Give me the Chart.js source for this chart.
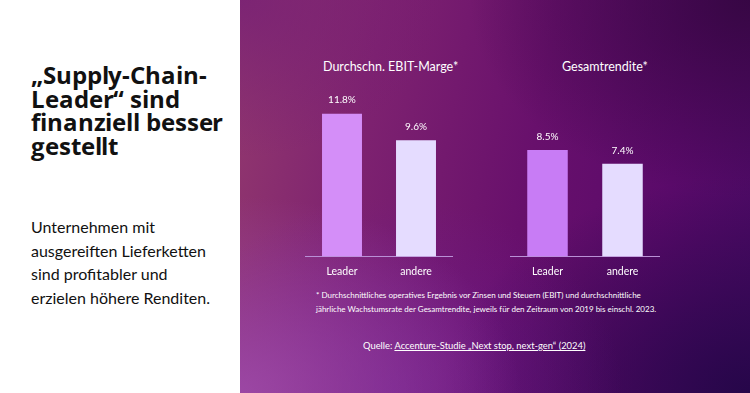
<!DOCTYPE html>
<html>
<head>
<meta charset="utf-8">
<script src="https://cdn.jsdelivr.net/npm/chart.js@4"></script>
<style>
  @font-face {
    font-family: 'HeadSans';
    src: local('Open Sans Bold'), local('OpenSans-Bold'), local('Open Sans');
    font-weight: 700;
    ascent-override: 76%;
    descent-override: 21%;
    line-gap-override: 0%;
  }
  html, body { margin: 0; padding: 0; }
  body { width: 750px; height: 393px; position: relative; overflow: hidden; background: #fff; font-family: Lato, "Open Sans", sans-serif; }
  #left { position: absolute; left: 0; top: 0; width: 240px; height: 393px; background: #fff; }
  #headline { position: absolute; left: 31px; top: 66px; font-family: HeadSans, "Open Sans", sans-serif; font-size: 24px; font-weight: 700; line-height: 23.5px; color: #111; letter-spacing: -0.1px; }
  #intro { position: absolute; left: 31px; top: 215px; font-size: 16px; line-height: 23.5px; color: #111; }
  #panel {
    position: absolute; left: 240px; top: 0; width: 510px; height: 393px;
    background:
      radial-gradient(ellipse 55% 50% at 0% 100%, rgba(160,76,172,0.85) 0%, rgba(160,76,172,0) 100%),
      radial-gradient(ellipse 45% 50% at 30% 100%, rgba(110,30,150,0.6) 0%, rgba(110,30,150,0) 100%),
      radial-gradient(ellipse 60% 55% at 100% 100%, rgba(36,6,72,0.95) 0%, rgba(36,6,72,0) 100%),
      radial-gradient(ellipse 55% 50% at 100% 0%, rgba(50,6,62,0.85) 0%, rgba(50,6,62,0) 100%),
      radial-gradient(ellipse 40% 40% at 0% 0%, rgba(115,28,118,0.7) 0%, rgba(115,28,118,0) 100%),
      linear-gradient(100deg, #92386e 0%, #7e2270 25%, #68106c 55%, #5a0a6a 80%, #4a0a64 100%);
  }
  .ctitle { position: absolute; color: #fff; font-size: 12.5px; white-space: nowrap; }
  canvas { position: absolute; }
  #note { position: absolute; left: 316px; top: 288px; color: #fff; font-size: 8px; line-height: 14px; white-space: nowrap; }
  #source { position: absolute; left: 363px; top: 340px; color: #fff; font-size: 9.4px; white-space: nowrap; }
  #source u { text-decoration-thickness: 1px; }
</style>
</head>
<body>
<div id="left">
  <div id="headline">„Supply-Chain-<br>Leader“ sind<br>finanziell besser<br>gestellt</div>
  <div id="intro">Unternehmen mit<br>ausgereiften Lieferketten<br>sind profitabler und<br>erzielen höhere Renditen.</div>
</div>
<div id="panel"></div>
<div class="ctitle" style="left:323px; top:59px;">Durchschn. EBIT-Marge*</div>
<div class="ctitle" style="left:562px; top:59px;">Gesamtrendite*</div>
<canvas id="ebitChart" style="left:305px; top:80px;" width="148" height="206"></canvas>
<canvas id="trsChart" style="left:510px; top:80px;" width="150" height="206"></canvas>
<div id="note">* Durchschnittliches operatives Ergebnis vor Zinsen und Steuern (EBIT) und durchschnittliche<br>jährliche Wachstumsrate der Gesamtrendite, jeweils für den Zeitraum von 2019 bis einschl. 2023.</div>
<div id="source">Quelle: <u>Accenture-Studie „Next stop, next-gen“ (2024)</u></div>

<script>
// data
const groups = ['Leader', 'andere'];
const ebitMargin = [11.8, 9.6];
const totalReturn = [8.5, 7.4];

// value labels above the bars
const valueLabels = {
    id: 'valueLabels',
    afterDatasetsDraw(chart) {
        const ctx = chart.ctx;
        const meta = chart.getDatasetMeta(0);
        ctx.save();
        ctx.fillStyle = '#ffffff';
        ctx.font = '10px Lato, sans-serif';
        ctx.textAlign = 'center';
        ctx.textBaseline = 'middle';
        meta.data.forEach((bar, i) => {
            const v = chart.data.datasets[0].data[i];
            ctx.fillText(v.toFixed(1) + '%', bar.x, bar.y - 13.5);
        });
        ctx.restore();
    }
};

function makeBarChart(id, values, leaderColor, yMax) {
    const canvas = document.getElementById(id);
    return new Chart(canvas.getContext('2d'), {
        type: 'bar',
        data: {
            labels: groups,
            datasets: [{
                data: values,
                backgroundColor: [leaderColor, '#e5dcff'],
                borderWidth: 0,
                barPercentage: 0.54,
                categoryPercentage: 1,
            }],
        },
        options: {
            responsive: false,
            animation: false,
            layout: { padding: { top: 20, left: 0, right: 0, bottom: 0 } },
            plugins: { legend: { display: false }, tooltip: { enabled: false } },
            scales: {
                x: {
                    grid: { display: false, drawTicks: false },
                    border: { display: true, color: '#b990d6', width: 1 },
                    ticks: { color: '#ffffff', font: { size: 10.5, family: 'Lato' }, padding: 8.5 },
                },
                y: {
                    display: false,
                    min: 0,
                    max: yMax,
                },
            },
        },
        plugins: [valueLabels],
    });
}

makeBarChart('ebitChart', ebitMargin, '#d48ef8', 12.93);
makeBarChart('trsChart', totalReturn, '#c87cf5', 12.5);
</script>
</body>
</html>
